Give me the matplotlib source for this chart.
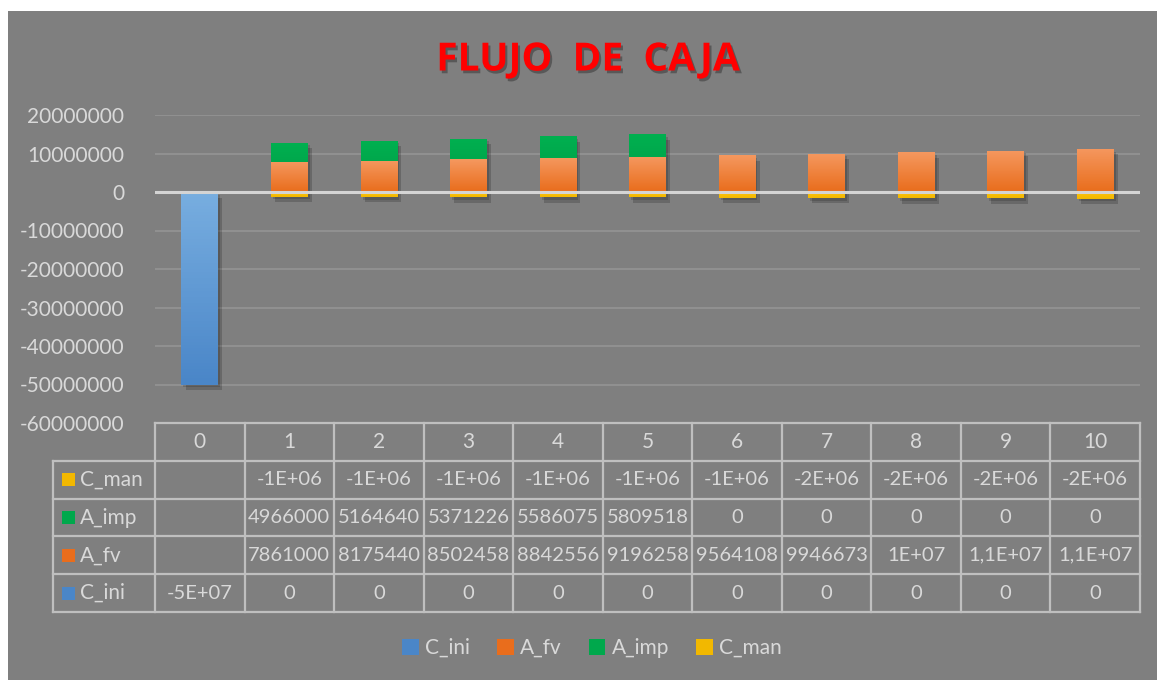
import numpy as np
import matplotlib
matplotlib.use('Agg')
from matplotlib import pyplot as plt
from matplotlib import transforms as mtransforms
from matplotlib import patheffects as pe
from matplotlib.patches import Rectangle
from matplotlib.colors import LinearSegmentedColormap

# datos del flujo de caja
periodos = [str(i) for i in range(11)]
c_ini = [-50000000, 0, 0, 0, 0, 0, 0, 0, 0, 0, 0]
a_fv = [np.nan, 7861000, 8175440, 8502458, 8842556, 9196258, 9564108, 9946673, 10344540, 10758322, 11188655]
a_imp = [np.nan, 4966000, 5164640, 5371226, 5586075, 5809518, 0, 0, 0, 0, 0]
c_man = [np.nan, -1200000, -1248000, -1297920, -1349837, -1403830, -1459983, -1518383, -1579118, -1642283, -1707974]

series = ['C_ini', 'A_fv', 'A_imp', 'C_man']
valores = {'C_ini': c_ini, 'A_fv': a_fv, 'A_imp': a_imp, 'C_man': c_man}
colores = {'C_ini': ('#78aee0', '#4a86c8'), 'A_fv': ('#f5985f', '#e96d1c'),
           'A_imp': ('#00b050', '#00a84c'), 'C_man': ('#ffc20a', '#f2b800')}
orden_tabla = ['C_man', 'A_imp', 'A_fv', 'C_ini']

GRIS = '#7f7f7f'
TXT = '#d9d9d9'
LINEA = '#bfbfbf'
plt.rcParams['font.family'] = ['Lato', 'DejaVu Sans']


def excel_general(v, ancho=7):
    # imita el formato "General" de Excel en una celda estrecha
    if v is None or np.isnan(v):
        return ''
    s = str(int(round(v)))
    if len(s) <= ancho:
        return s
    t = s
    for d in (3, 2, 1, 0):
        m, e = ('%.*E' % (d, v)).split('E')
        if '.' in m:
            m = m.rstrip('0').rstrip('.')
        t = m.replace('.', ',') + 'E' + '%+03d' % int(e)
        if len(t) <= ancho:
            return t
    return t


W, H = 1157, 680
fig = plt.figure(figsize=(W / 100, H / 100), dpi=100)
fig.patch.set_facecolor('white')
fig.patches.append(Rectangle((8 / W, 0), 1 - 8 / W, (H - 11) / H, transform=fig.transFigure,
                             facecolor=GRIS, edgecolor='none', zorder=-10))

ax = fig.add_axes([155 / W, (H - 423) / H, (1140 - 155) / W, (423 - 115) / H])
ax.set_facecolor('none')

x = np.arange(len(periodos))
ancho_barra = 0.41
pos_base = np.zeros(len(x))
neg_base = np.zeros(len(x))
sombra = [pe.SimplePatchShadow(offset=(3, -4), shadow_rgbFace='black', alpha=0.18),
          pe.SimplePatchShadow(offset=(1.5, -2), shadow_rgbFace='black', alpha=0.15), pe.Normal()]

for nombre in series:
    v = np.nan_to_num(np.array(valores[nombre], dtype=float))
    base = np.where(v >= 0, pos_base, neg_base)
    top, bot = colores[nombre]
    barras = ax.bar(x, v, ancho_barra, bottom=base, color=bot, edgecolor='none',
                    zorder=2, path_effects=sombra)
    cmap = LinearSegmentedColormap.from_list(nombre, [bot, top])
    grad = np.linspace(0, 1, 64).reshape(-1, 1)
    for r in barras:
        if r.get_height() == 0:
            continue
        y0, y1 = sorted([r.get_y(), r.get_y() + r.get_height()])
        im = ax.imshow(grad, extent=[r.get_x(), r.get_x() + r.get_width(), y0, y1],
                       origin='lower', aspect='auto', cmap=cmap, zorder=3)
        im.set_clip_path(r)
    pos_base = pos_base + np.where(v >= 0, v, 0)
    neg_base = neg_base + np.where(v < 0, v, 0)

ax.set_xlim(-0.5, len(x) - 0.5)
ax.set_ylim(-60000000, 20000000)
ax.set_yticks(np.arange(-60000000, 20000001, 10000000))
ax.yaxis.set_major_formatter(matplotlib.ticker.FuncFormatter(lambda v, p: '%d' % v))
ax.tick_params(axis='y', length=0, pad=22, labelsize=15, labelcolor=TXT)
ax.set_xticks([])
for s in ax.spines.values():
    s.set_visible(False)
ax.grid(axis='y', color='#949494', linewidth=1.2, zorder=1)
ax.axhline(0, color='#d4d4d4', linewidth=2.2, zorder=6)

# tabla de datos
tr = mtransforms.blended_transform_factory(ax.transData, ax.transAxes)
fila = 37.8 / 308
col_lab = 102 / 89.55
izq = -0.5 - col_lab
der = len(x) - 0.5
kw = dict(color=LINEA, linewidth=1.6, transform=tr, clip_on=False, zorder=7)

ax.plot([-0.5, der], [0, 0], **kw)
for i in range(1, 6):
    ax.plot([izq, der], [-i * fila, -i * fila], **kw)
for xi in np.arange(-0.5, der + 0.01, 1.0):
    ax.plot([xi, xi], [0, -5 * fila], **kw)
ax.plot([izq, izq], [-fila, -5 * fila], **kw)

for xi, p in zip(x, periodos):
    ax.text(xi, -0.5 * fila, p, transform=tr, ha='center', va='center',
            fontsize=15, color=TXT)

for j, nombre in enumerate(orden_tabla):
    yc = -(j + 1.5) * fila
    top, bot = colores[nombre]
    ax.add_patch(Rectangle((izq + 9 / 89.55, yc - 6.5 / 308), 13 / 89.55, 13 / 308,
                           transform=tr, clip_on=False, facecolor=bot, edgecolor='none', zorder=7))
    ax.text(izq + 27 / 89.55, yc, nombre, transform=tr, ha='left', va='center',
            fontsize=15, color=TXT)
    for xi, v in zip(x, valores[nombre]):
        ax.text(xi, yc, excel_general(v), transform=tr, ha='center', va='center',
                fontsize=14.5, color=TXT)

# titulo
fig.text(588 / W, 1 - 60 / H, 'FLUJO  DE  CAJA', ha='center', va='center', fontsize=28,
         fontweight='bold', family=['Open Sans', 'DejaVu Sans'], color='#ff0000',
         path_effects=[pe.withSimplePatchShadow(offset=(1.5, -2), shadow_rgbFace='black', alpha=0.3)])

# leyenda
handles = [Rectangle((0, 0), 1, 1, facecolor=colores[n][1], edgecolor='none') for n in series]
fig.legend(handles, series, loc='center', bbox_to_anchor=(592 / W, 1 - 648 / H), ncol=4,
           frameon=False, fontsize=15, labelcolor=TXT, handlelength=0.8, handleheight=0.8,
           handletextpad=0.3, columnspacing=1.3)

fig.savefig('out.png', dpi=100, facecolor=fig.get_facecolor())
